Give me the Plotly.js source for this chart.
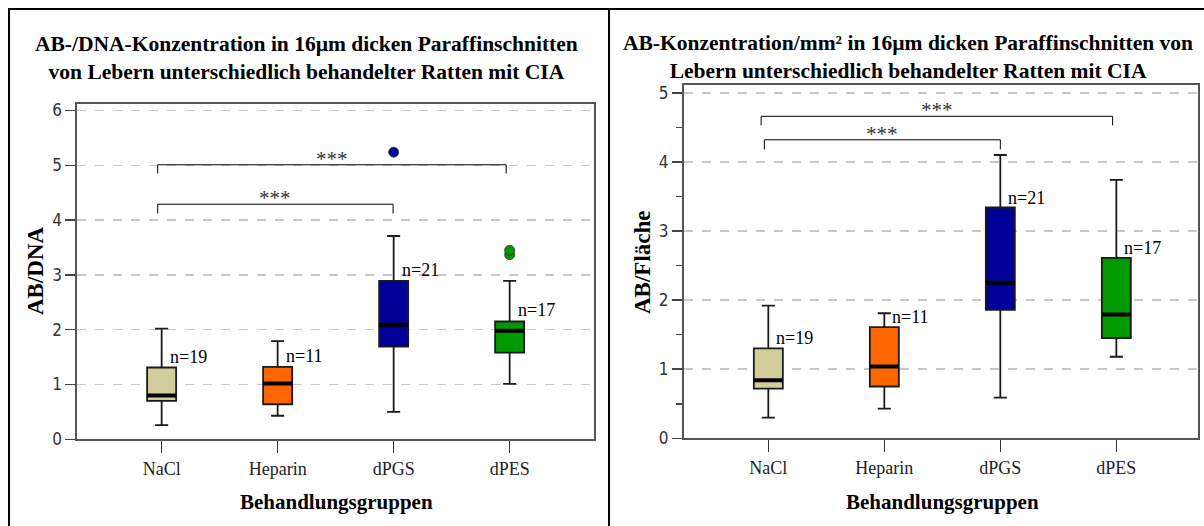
<!DOCTYPE html>
<html>
<head>
<meta charset="utf-8">
<script src="https://cdn.plot.ly/plotly-3.0.1.min.js"></script>
<style>html,body{margin:0;padding:0;background:#fff;}#chart{width:1204px;height:526px;}</style>
</head>
<body>
<div id="chart"></div>
<script>
// ---------- data ----------
const groups = ["NaCl", "Heparin", "dPGS", "dPES"];
const groupColors = ["#d3cd9b", "#ff6600", "#000099", "#009900"];
const nLabels = ["n=19", "n=11", "n=21", "n=17"];

// Left: AB/DNA
const dnaLower  = [0.26, 0.43, 0.50, 1.01];
const dnaQ1     = [0.70, 0.64, 1.69, 1.58];
const dnaMedian = [0.80, 1.02, 2.09, 1.98];
const dnaQ3     = [1.31, 1.32, 2.89, 2.15];
const dnaUpper  = [2.02, 1.79, 3.71, 2.89];
const dnaOutlierGroup = ["dPGS", "dPES", "dPES"];
const dnaOutlierValue = [5.24, 3.37, 3.45];

// Right: AB/Fläche
const areaLower  = [0.30, 0.43, 0.59, 1.18];
const areaQ1     = [0.72, 0.75, 1.86, 1.45];
const areaMedian = [0.84, 1.04, 2.25, 1.79];
const areaQ3     = [1.30, 1.61, 3.34, 2.61];
const areaUpper  = [1.92, 1.81, 4.10, 3.74];

// significance comparisons: [from group index, to group index, label]
const comparisons = [[0, 2, "***"], [0, 3, "***"]];

// ---------- helpers ----------
const W = 1204, H = 526;
const px = x => x / W;
const py = y => 1 - y / H;
const serif = "Liberation Serif, Times New Roman, serif";
const BOXW = 0.25;

const traces = [];
const shapes = [];
const annotations = [];

function addPanel(xa, ya, lower, q1, med, q3, upper, outG, outV, nShiftY) {
  const xr = xa === "x" ? "x" : "x2";
  const yr = ya === "y" ? "y" : "y2";
  groups.forEach((g, i) => {
    traces.push({
      type: "box", xaxis: xr, yaxis: yr,
      x: [g], q1: [q1[i]], median: [med[i]], q3: [q3[i]],
      lowerfence: [lower[i]], upperfence: [upper[i]],
      width: BOXW, whiskerwidth: 0.45,
      fillcolor: groupColors[i],
      line: {color: "#1a1a1a", width: 1.8},
      boxpoints: false, hoverinfo: "skip", showlegend: false
    });
    shapes.push({
      type: "line", xref: xr, yref: yr,
      x0: i - BOXW / 2, x1: i + BOXW / 2, y0: med[i], y1: med[i],
      line: {color: "#000", width: 4}
    });
    annotations.push({
      xref: xr, yref: yr, x: i, y: q3[i], text: nLabels[i],
      xanchor: "left", yanchor: "middle", xshift: 6, yshift: nShiftY,
      showarrow: false, font: {family: serif, size: 18, color: "#000"}
    });
  });
  if (outG && outG.length) {
    outG.forEach((g, k) => {
      const ci = groups.indexOf(g);
      traces.push({
        type: "scatter", mode: "markers", xaxis: xr, yaxis: yr,
        x: [g], y: [outV[k]],
        marker: {size: 10, color: groupColors[ci], line: {color: "#333", width: 0.8}},
        hoverinfo: "skip", showlegend: false
      });
    });
  }
}

addPanel("x", "y", dnaLower, dnaQ1, dnaMedian, dnaQ3, dnaUpper, dnaOutlierGroup, dnaOutlierValue, 11);
addPanel("x2", "y2", areaLower, areaQ1, areaMedian, areaQ3, areaUpper, [], [], 10);

// significance brackets
function bracket(xr, yr, i0, i1, level, drop, label, dx0, dx1) {
  const a = i0 + dx0, b = i1 + dx1;
  shapes.push({type: "path", xref: xr, yref: yr,
    path: `M ${a} ${level - drop} L ${a} ${level} L ${b} ${level} L ${b} ${level - drop}`,
    line: {color: "#000", width: 1}});
  annotations.push({xref: xr, yref: yr, x: (a + b) / 2, y: level, text: label,
    xanchor: "center", yanchor: "bottom", yshift: -8, showarrow: false,
    font: {family: serif, size: 21, color: "#333"}});
}
bracket("x", "y", comparisons[0][0], comparisons[0][1], 4.29, 0.17, comparisons[0][2], -0.034, -0.005);
bracket("x", "y", comparisons[1][0], comparisons[1][1], 5.01, 0.16, comparisons[1][2], -0.034, -0.03);
bracket("x2", "y2", comparisons[0][0], comparisons[0][1], 4.32, 0.14, comparisons[0][2], -0.034, 0.0);
bracket("x2", "y2", comparisons[1][0], comparisons[1][1], 4.66, 0.13, comparisons[1][2], -0.062, -0.032);

// panel borders
shapes.push({type: "line", xref: "paper", yref: "paper", x0: px(8), x1: px(1210), y0: py(9), y1: py(9), line: {color: "#000", width: 2}});
shapes.push({type: "line", xref: "paper", yref: "paper", x0: px(9), x1: px(9), y0: py(9), y1: py(540), line: {color: "#000", width: 2}});
shapes.push({type: "line", xref: "paper", yref: "paper", x0: px(609), x1: px(609), y0: py(9), y1: py(540), line: {color: "#000", width: 2}});

// titles
const titleFont = {family: serif, size: 21.5, color: "#000"};
annotations.push({xref: "paper", yref: "paper", x: px(306), y: py(58), xanchor: "center", yanchor: "middle", showarrow: false,
  text: "<b>AB-/DNA-Konzentration in 16µm dicken Paraffinschnitten<br>von Lebern unterschiedlich behandelter Ratten mit CIA</b>", font: titleFont});
annotations.push({xref: "paper", yref: "paper", x: px(908), y: py(57), xanchor: "center", yanchor: "middle", showarrow: false,
  text: "<b>AB-Konzentration/mm² in 16µm dicken Paraffinschnitten von<br>Lebern unterschiedlich behandelter Ratten mit CIA</b>", font: titleFont});
// axis titles
const axTitleFont = {family: serif, size: 21, color: "#000"};
const yTitleFont = {family: serif, size: 23, color: "#000"};
annotations.push({xref: "paper", yref: "paper", x: px(336), y: py(502), xanchor: "center", yanchor: "middle", showarrow: false, text: "<b>Behandlungsgruppen</b>", font: axTitleFont});
annotations.push({xref: "paper", yref: "paper", x: px(942), y: py(502), xanchor: "center", yanchor: "middle", showarrow: false, text: "<b>Behandlungsgruppen</b>", font: axTitleFont});
annotations.push({xref: "paper", yref: "paper", x: px(35), y: py(271), xanchor: "center", yanchor: "middle", textangle: -90, showarrow: false, text: "<b>AB/DNA</b>", font: yTitleFont});
annotations.push({xref: "paper", yref: "paper", x: px(643), y: py(262), xanchor: "center", yanchor: "middle", textangle: -90, showarrow: false, text: "<b>AB/Fläche</b>", font: yTitleFont});

const tickFontY = {family: "Liberation Sans Narrow, DejaVu Sans Condensed, sans-serif", size: 17, color: "#333"};
const tickFontX = {family: serif, size: 18, color: "#222"};
const xBase = {type: "category", categoryorder: "array", categoryarray: groups, tickvals: groups, ticktext: groups,
  showline: true, mirror: true, linecolor: "#555", linewidth: 2, ticks: "outside", ticklen: 12, tickwidth: 1.5, tickcolor: "#333",
  showgrid: false, zeroline: false, tickfont: tickFontX, fixedrange: true};
const yBase = {showline: true, mirror: true, linecolor: "#555", linewidth: 2, ticks: "outside", ticklen: 10, tickwidth: 1.5, tickcolor: "#444",
  showgrid: true, gridcolor: "#c8c8c8", griddash: "dash", gridwidth: 1.5, zeroline: false, tickfont: tickFontY, dtick: 1, tick0: 0, fixedrange: true};

const layout = {
  width: W, height: H, margin: {l: 0, r: 0, t: 0, b: 0},
  paper_bgcolor: "#fff", plot_bgcolor: "#fff", boxmode: "overlay", showlegend: false,
  xaxis: Object.assign({}, xBase, {domain: [px(77.3), px(594)], range: [-0.727, 3.727], anchor: "y"}),
  yaxis: Object.assign({}, yBase, {domain: [py(439.3), py(104)], range: [0, 6.119], anchor: "x"}),
  xaxis2: Object.assign({}, xBase, {domain: [px(684), px(1198)], range: [-0.727, 3.704], anchor: "y2"}),
  yaxis2: Object.assign({}, yBase, {domain: [py(438.3), py(85)], range: [0, 5.113], anchor: "x2",
    minor: {dtick: 0.5, tick0: 0, ticks: "outside", ticklen: 6, tickcolor: "#444", tickwidth: 1.5, showgrid: false}}),
  shapes: shapes, annotations: annotations
};

Plotly.newPlot("chart", traces, layout, {displayModeBar: false, staticPlot: true});
</script>
</body>
</html>
